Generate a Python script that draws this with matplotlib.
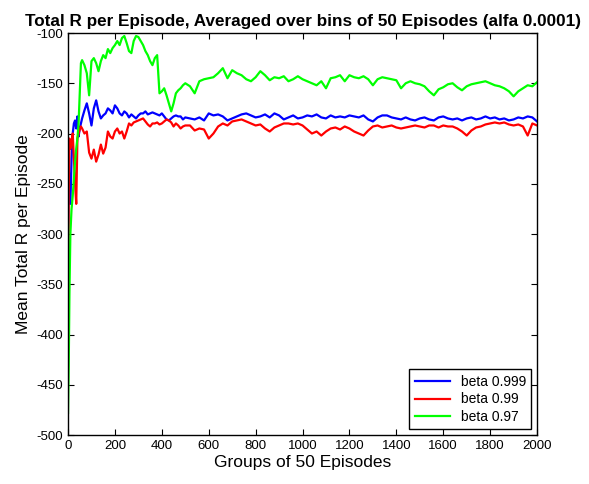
# -*- coding: utf-8 -*-
import numpy as np
import matplotlib
matplotlib.use('Agg')
import matplotlib.pyplot as plt

# groups of 50 episodes (x positions where values were read)
groups = np.r_[[0, 3, 6, 10, 15, 20, 25, 30, 35, 40, 45, 50, 55],
               np.arange(60, 501, 10), np.arange(520, 2001, 20)]

beta_0999 = [-300, -235, -250, -270, -225, -200, -190, -187, -195, -183, -203, -195, -190,
             -185, -177, -170, -180, -192, -175, -167, -178, -185, -182, -180, -175, -177, -180,
             -172, -175, -180, -182, -178, -180, -184, -181, -183, -185, -182, -180, -180, -178,
             -181, -180, -179, -180, -181, -182, -180, -183, -186, -187, -185, -183, -182, -183,
             -183, -186, -184,
             -185, -186, -184, -187, -180, -182, -181, -183, -187, -185, -183, -181, -180, -182,
             -184, -183, -181, -184, -180, -182, -186, -184, -182, -185, -184, -182, -183, -181,
             -184, -185, -182, -184, -183, -184, -182, -183, -184, -182, -186, -188, -184, -182,
             -182, -184, -185, -186, -184, -186, -187, -185, -184, -186, -187, -184, -183, -185,
             -186, -185, -187, -185, -184, -186, -185, -183, -185, -184, -186, -185, -187, -186,
             -184, -185, -183, -184, -188]

beta_099 = [-375, -260, -205, -215, -210, -200, -225, -250, -270, -205, -200, -196, -193,
            -195, -200, -198, -219, -225, -216, -228, -221, -211, -220, -214, -198, -203, -205,
            -198, -195, -200, -198, -205, -198, -190, -192, -189, -188, -187, -186, -185, -188,
            -191, -193, -190, -190, -189, -191, -190, -188, -186, -187, -189, -193, -190, -192,
            -195, -193, -192,
            -192, -197, -195, -196, -205, -200, -193, -190, -192, -188, -187, -186, -188, -190,
            -192, -191, -195, -198, -194, -192, -190, -190, -191, -190, -192, -196, -200, -198,
            -202, -198, -195, -194, -196, -193, -195, -198, -200, -202, -197, -193, -192, -194,
            -193, -192, -194, -195, -194, -193, -192, -193, -194, -192, -192, -194, -192, -193,
            -193, -195, -198, -202, -197, -194, -193, -191, -190, -189, -190, -189, -191, -192,
            -191, -193, -202, -190, -192]

beta_097 = [-478, -430, -360, -300, -275, -262, -245, -228, -215, -205, -190, -160, -130,
            -127, -132, -140, -162, -128, -125, -130, -138, -128, -122, -125, -116, -120, -115,
            -112, -108, -112, -105, -103, -110, -118, -120, -108, -103, -104, -108, -112, -118,
            -122, -128, -132, -125, -122, -160, -158, -155, -162, -170, -178, -170, -160, -157,
            -155, -152, -150,
            -153, -160, -148, -146, -145, -144, -140, -135, -145, -137, -140, -142, -146, -148,
            -144, -138, -142, -147, -144, -145, -143, -148, -146, -143, -146, -148, -150, -152,
            -148, -155, -145, -144, -142, -148, -142, -144, -145, -143, -146, -152, -146, -144,
            -145, -146, -147, -155, -150, -148, -150, -151, -153, -158, -162, -156, -154, -151,
            -150, -154, -157, -153, -151, -150, -149, -148, -150, -152, -153, -155, -158, -163,
            -158, -155, -152, -153, -149]

labels = ['beta 0.999', 'beta 0.99', 'beta 0.97']
colors = ['#0000ff', '#ff0000', '#00ff00']

plt.rcParams['font.family'] = ['Liberation Sans', 'DejaVu Sans']
plt.rcParams['axes.unicode_minus'] = False

fig = plt.figure(figsize=(5.89, 4.84), dpi=100)
ax = fig.add_axes([0.1155, 0.1012, 0.7963, 0.8306])

for y, lab, c in zip([beta_0999, beta_099, beta_097], labels, colors):
    ax.plot(groups, y, color=c, linewidth=1.6, label=lab)

ax.set_xlim(0, 2000)
ax.set_ylim(-500, -100)
ax.set_xticks(np.arange(0, 2001, 200))
ax.set_yticks(np.arange(-500, -99, 50))
ax.tick_params(direction='in', top=True, right=True, labelsize=9.5, length=4)
for s in ax.spines.values():
    s.set_linewidth(1.0)

ax.set_title('Total R per Episode, Averaged over bins of 50 Episodes (alfa 0.0001)',
             fontsize=12.3, fontweight='bold', pad=5)
ax.set_xlabel('Groups of 50 Episodes', fontsize=12.5, labelpad=2)
ax.set_ylabel('Mean Total R per Episode', fontsize=12.5, labelpad=4)

leg = ax.legend(loc='lower right', fontsize=10, fancybox=False, framealpha=1,
                edgecolor='black', borderaxespad=0.4, handlelength=2.5,
                labelspacing=0.25)
leg.get_frame().set_linewidth(1.0)

fig.savefig('out.png', dpi=100)
